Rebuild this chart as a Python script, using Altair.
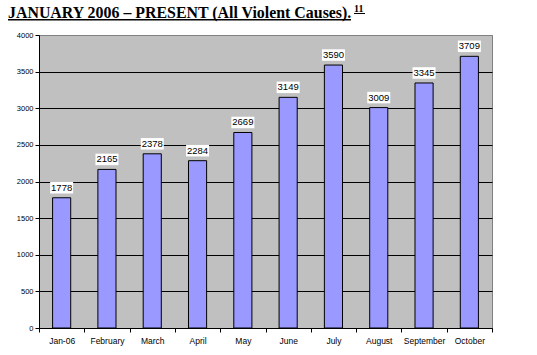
import altair as alt
import pandas as pd

months = ["Jan-06", "February", "March", "April", "May", "June",
          "July", "August", "September", "October"]
deaths = [1778, 2165, 2378, 2284, 2669, 3149, 3590, 3009, 3345, 3709]
y_ticks = [0, 500, 1000, 1500, 2000, 2500, 3000, 3500, 4000]
title_text = "JANUARY 2006 \u2013 PRESENT (All Violent Causes)."
footnote = "11"

df = pd.DataFrame({"month": months, "deaths": deaths})

x = alt.X("month:N", sort=months, title=None,
          scale=alt.Scale(paddingInner=0, paddingOuter=0),
          axis=alt.Axis(labelAngle=0, labelFontSize=8.5, labelFont="Liberation Sans",
                        labelColor="black", tickBand="extent", tickSize=4,
                        tickColor="black", domainColor="black", labelPadding=4,
                        grid=False))
y = alt.Y("deaths:Q", title=None,
          scale=alt.Scale(domain=[0, 4000], nice=False),
          axis=alt.Axis(values=y_ticks, format="d", labelFontSize=7.5,
                        labelFont="Liberation Sans",
                        labelColor="black", tickSize=4, tickColor="black",
                        domainColor="black", labelPadding=2, grid=True,
                        gridColor={"condition": {"test": "datum.value === 4000", "value": "#808080"},
                                   "value": "black"},
                        gridOpacity=1, gridWidth=1))

base = alt.Chart(df)

bars = base.mark_bar(width=alt.RelativeBandSize(0.4), color="#9999FF",
                     stroke="black", strokeWidth=1).encode(x=x, y=y)

boxes = base.mark_point(shape="M-1,-0.5H1V0.5H-1Z", size=529, filled=True,
                        fill="white", opacity=1, yOffset=-10).encode(x=x, y=y)

labels = base.mark_text(fontSize=9.5, font="Liberation Sans", color="black",
                        baseline="middle", yOffset=-10).encode(
    x=x, y=y, text=alt.Text("deaths:Q", format="d"))

tdf = pd.DataFrame({"t": [title_text]})
title = alt.Chart(tdf).mark_text(align="left", baseline="alphabetic",
                                 font="Liberation Serif", fontWeight="bold",
                                 fontSize=15.9, color="black").encode(
    x=alt.value(-31), y=alt.value(-17), text="t:N")
underline = alt.Chart(tdf).mark_rule(color="black", strokeWidth=1.4).encode(
    x=alt.value(-31), x2=alt.value(312), y=alt.value(-15.3))

fdf = pd.DataFrame({"t": [footnote]})
foot = alt.Chart(fdf).mark_text(align="left", baseline="alphabetic",
                                font="Liberation Serif", fontWeight="bold",
                                fontSize=10, color="black").encode(
    x=alt.value(315), y=alt.value(-23), text="t:N")
foot_ul = alt.Chart(fdf).mark_rule(color="black", strokeWidth=1).encode(
    x=alt.value(315), x2=alt.value(326), y=alt.value(-21.5))

chart = alt.layer(bars, boxes, labels, title, underline, foot, foot_ul).properties(
    width=453, height=293,
    autosize=alt.AutoSizeParams(type="none"),
    padding={"left": 39, "top": 35, "right": 45, "bottom": 27},
    background="white",
).configure_view(fill="#C0C0C0", stroke="#808080", strokeWidth=1)

chart.save("out.html", embed_options={"renderer": "svg", "actions": False})
